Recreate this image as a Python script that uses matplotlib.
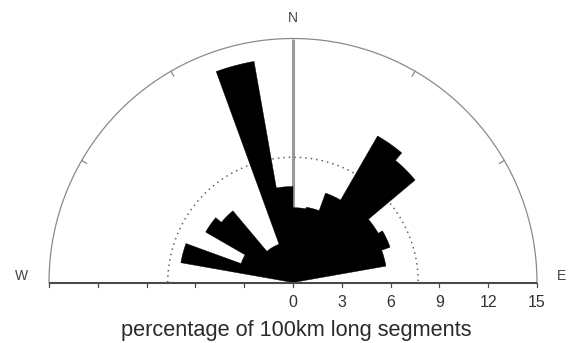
import numpy as np
import matplotlib
matplotlib.use("Agg")
import matplotlib.pyplot as plt

plt.rcParams['font.family'] = ['Liberation Sans', 'DejaVu Sans']

# ---- data ----
bin_start = [-90, -80, -70, -60, -50, -40, -30, -20, -10, 0, 10, 20, 30, 40, 50, 60, 70, 80]
bin_width = 10
percent = [0.0, 7.0, 3.4, 6.2, 5.75, 2.5, 2.5, 13.8, 5.9, 4.6, 4.7, 5.85, 10.4, 9.8, 6.05, 6.35, 5.8, 0.0]
ref_circle = 7.7
r_max = 15
scale_ticks = [0, 3, 6, 9, 12, 15]
arc_ticks = [-60, -30, 30, 60]
xlabel = "percentage of 100km long segments"

# ---- figure ----
W, H = 569, 343
fig = plt.figure(figsize=(W / 100, H / 100), dpi=100)
ax = fig.add_axes([0, 0, 1, 1])
px = 244 / r_max          # pixels per unit
cx, cy = 293, 282.5        # centre in pixels (from top)
ax.set_xlim(-cx / px, (W - cx) / px)
ax.set_ylim(-(H - cy) / px, cy / px)
ax.set_aspect('equal')
ax.axis('off')

def pt(az, r):
    a = np.deg2rad(az)
    return r * np.sin(a), r * np.cos(a)

# N line
ax.plot([0, 0], [0, r_max], color='#9a9a9a', lw=2.2, zorder=1, solid_capstyle='butt')

# outer arc
az = np.linspace(-90, 90, 361)
x, y = pt(az, r_max)
ax.plot(x, y, color='#8a8a8a', lw=0.9, zorder=1)
for a in arc_ticks:
    x0, y0 = pt(a, r_max)
    x1, y1 = pt(a, r_max - 0.35)
    ax.plot([x0, x1], [y0, y1], color='#8a8a8a', lw=0.9, zorder=1)

# dotted reference circle
x, y = pt(az, ref_circle)
ax.plot(x, y, color='#666666', lw=1.1, ls=(0, (1, 2.6)), zorder=1)

# rose sectors as one outline (no seams between neighbouring bins)
xs, ys = [0.0], [0.0]
for s, v in zip(bin_start, percent):
    arc = np.linspace(s, s + bin_width, 12)
    bx, by = pt(arc, v)
    xs.extend(bx); ys.extend(by)
xs.append(0.0); ys.append(0.0)
ax.fill(xs, ys, facecolor='black', edgecolor='black', lw=0.3, zorder=3)

# baseline with ticks
ax.plot([-r_max, r_max], [0, 0], color='#4a4a4a', lw=1.5, zorder=4, solid_capstyle='butt')
for t in range(-r_max, r_max + 1, 3):
    ax.plot([t, t], [0, -0.27], color='#4a4a4a', lw=0.9, zorder=4)
for t in scale_ticks:
    ax.text(t, -1.26, str(t), ha='center', va='center', fontsize=11.5, color='#333333')

ax.text(0.2, -2.95, xlabel, ha='center', va='center', fontsize=15.7, color='#2a2a2a')
ax.text(0, 16.26, 'N', ha='center', va='center', fontsize=10, color='#444444')
ax.text(-16.7, 0.4, 'W', ha='center', va='center', fontsize=10, color='#444444')
ax.text(16.5, 0.4, 'E', ha='center', va='center', fontsize=10, color='#444444')

fig.savefig('out.png', dpi=100)
